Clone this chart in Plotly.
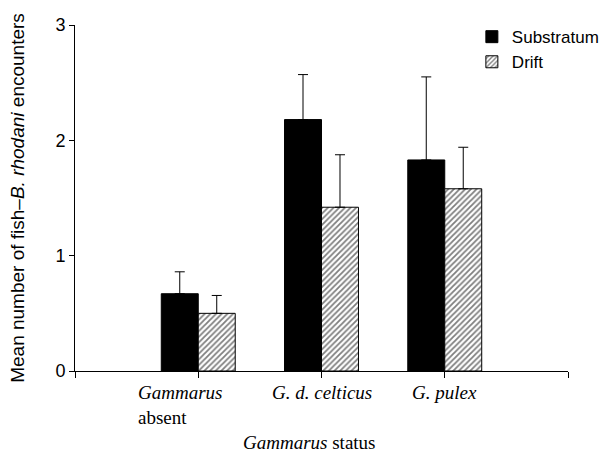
import plotly.graph_objects as go

categories = ["<i>Gammarus</i><br>absent", "<i>G. d. celticus</i>", "<i>G. pulex</i>"]
cat_pos = [0, 1, 2]
substratum = [0.67, 2.18, 1.83]
substratum_err = [0.19, 0.39, 0.72]
drift = [0.50, 1.42, 1.58]
drift_err = [0.155, 0.455, 0.36]
y_ticks = [0, 1, 2, 3]

fig = go.Figure()
fig.add_trace(go.Bar(
    name="Substratum", x=cat_pos, y=substratum,
    marker=dict(color="black", line=dict(color="black", width=1)),
    error_y=dict(type="data", array=substratum_err, arrayminus=[0]*3, symmetric=False,
                 color="black", thickness=1, width=5),
))
fig.add_trace(go.Bar(
    name="Drift", x=cat_pos, y=drift,
    marker=dict(color="white", line=dict(color="black", width=1),
                pattern=dict(shape="/", fgcolor="black", bgcolor="white", size=4, solidity=0.45)),
    error_y=dict(type="data", array=drift_err, arrayminus=[0]*3, symmetric=False,
                 color="black", thickness=1, width=5),
))

annotations = []
for i, (pos, lab) in enumerate(zip(cat_pos, categories)):
    annotations.append(dict(
        x=pos, xref="x", y=0, yref="paper", yanchor="top",
        xanchor="left" if i == 0 else "center",
        xshift=-62 if i == 0 else 0, yshift=-9,
        text=lab, showarrow=False, align="left",
        font=dict(family="Liberation Serif", size=19, color="black"),
    ))
annotations.append(dict(
    x=0.5, xref="paper", y=0, yref="paper", yanchor="middle", xshift=-13, yshift=-71,
    text="<i>Gammarus</i> status", showarrow=False,
    font=dict(family="Liberation Serif", size=19, color="black"),
))

fig.update_layout(
    width=616, height=454,
    margin=dict(l=75, r=48, t=25, b=83),
    paper_bgcolor="white", plot_bgcolor="white",
    barmode="group", bargap=0.4, bargroupgap=0,
    font=dict(family="Liberation Sans", size=18, color="black"),
    showlegend=True,
    legend=dict(x=0.805, y=1.017, xanchor="left", yanchor="top",
                font=dict(family="Liberation Sans", size=17, color="black"),
                bgcolor="rgba(0,0,0,0)", itemwidth=30, tracegroupgap=0),
    annotations=annotations,
    xaxis=dict(range=[-1, 3], tickvals=[-1, 0, 1, 2, 3], ticktext=[""]*5,
               showline=True, linecolor="black", linewidth=1,
               ticks="outside", ticklen=6, tickcolor="black",
               showgrid=False, zeroline=False, automargin=False),
    yaxis=dict(range=[0, 3], tickvals=y_ticks, ticktext=[str(t) for t in y_ticks],
               showline=True, linecolor="black", linewidth=1,
               ticks="outside", ticklen=5, tickcolor="black",
               showgrid=False, zeroline=False, automargin=False,
               tickfont=dict(family="Liberation Sans", size=18),
               title=dict(text="Mean number of fish\u2013<i>B. rhodani</i> encounters",
                          font=dict(family="Liberation Sans", size=19), standoff=25)),
)
fig.write_html("out.html", config={"displayModeBar": False},
               post_script="document.body.style.margin='0';")
